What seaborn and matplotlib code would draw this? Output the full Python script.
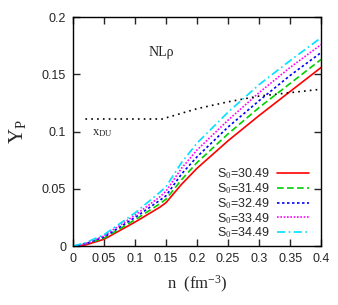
import numpy as np
import pandas as pd
import matplotlib
matplotlib.use("Agg")
import matplotlib.pyplot as plt
import seaborn as sns
from matplotlib.ticker import FuncFormatter

# ---- data ----
n_vals = [0.0, 0.02, 0.05, 0.10, 0.14, 0.15, 0.175, 0.20, 0.25, 0.30, 0.35, 0.40]
yp_3049 = [0.0, 0.001, 0.006, 0.021, 0.034, 0.038, 0.054, 0.068, 0.092, 0.114, 0.135, 0.156]
yp_3149 = [0.0, 0.002, 0.007, 0.023, 0.037, 0.041, 0.058, 0.073, 0.098, 0.121, 0.142, 0.163]
yp_3249 = [0.0, 0.002, 0.008, 0.025, 0.040, 0.044, 0.063, 0.078, 0.104, 0.127, 0.149, 0.169]
yp_3349 = [0.0, 0.002, 0.009, 0.027, 0.043, 0.048, 0.068, 0.084, 0.110, 0.134, 0.156, 0.176]
yp_3449 = [0.0, 0.003, 0.010, 0.029, 0.047, 0.052, 0.073, 0.090, 0.117, 0.141, 0.162, 0.182]

n_du = [0.02, 0.05, 0.10, 0.145, 0.15, 0.175, 0.20, 0.25, 0.30, 0.35, 0.40]
x_du = [0.111, 0.111, 0.111, 0.111, 0.112, 0.116, 0.120, 0.126, 0.131, 0.134, 0.137]

labels = ["S$_0$=30.49", "S$_0$=31.49", "S$_0$=32.49", "S$_0$=33.49", "S$_0$=34.49"]
series = [yp_3049, yp_3149, yp_3249, yp_3349, yp_3449]
colors = ["#ff0000", "#00d000", "#0000ff", "#ff00ff", "#00e0ff"]
dash_styles = ["-", (0, (4, 2)), (0, (1.5, 1.5)), (0, (1, 1)), (0, (5, 2, 1, 2))]

x_ticks = [0, 0.05, 0.1, 0.15, 0.2, 0.25, 0.3, 0.35, 0.4]
y_ticks = [0, 0.05, 0.1, 0.15, 0.2]

# ---- plotting ----
sns.set_style("ticks")
plt.rcParams["font.family"] = ["Liberation Sans", "DejaVu Sans"]
plt.rcParams["mathtext.fontset"] = "custom"
plt.rcParams["mathtext.rm"] = "Liberation Serif"
plt.rcParams["mathtext.it"] = "Liberation Serif:italic"

fig = plt.figure(figsize=(3.38, 3.05), dpi=100)
ax = fig.add_axes([0.216, 0.193, 0.734, 0.751])

for ys, lab, col, ls in zip(series, labels, colors, dash_styles):
    df = pd.DataFrame({"n": n_vals, "Y": ys})
    sns.lineplot(data=df, x="n", y="Y", ax=ax, color=col, lw=1.2,
                 linestyle=ls, label=lab)

df_du = pd.DataFrame({"n": n_du, "Y": x_du})
sns.lineplot(data=df_du, x="n", y="Y", ax=ax, color="black", lw=1.2,
             linestyle=(0, (1, 2.5)), legend=False)

ax.set_xlim(0, 0.4)
ax.set_ylim(0, 0.2)
ax.set_xticks(x_ticks)
ax.set_yticks(y_ticks)
ax.xaxis.set_major_formatter(FuncFormatter(lambda v, p: "%g" % round(v, 3)))
ax.yaxis.set_major_formatter(FuncFormatter(lambda v, p: "%g" % round(v, 3)))
ax.tick_params(direction="in", top=True, right=True, length=5, width=1,
               labelsize=9, pad=5)
for s in ax.spines.values():
    s.set_linewidth(1.0)
    s.set_color("black")

ax.set_xlabel("n  (fm$^{-3}$)", fontsize=12, family="Liberation Serif", labelpad=6)
ax.set_ylabel("Y$_{\\rm P}$", fontsize=15, family="Liberation Serif", labelpad=10)

ax.text(0.121, 0.169, "NL\u03c1", fontsize=10, family="Liberation Serif",
        ha="left", va="center")
ax.text(0.03, 0.099, "x$_{\\rm DU}$", fontsize=9, family="Liberation Serif",
        ha="left", va="center")

leg = ax.legend(loc="lower right", frameon=False, markerfirst=False,
                fontsize=9, handlelength=2.5, handletextpad=0.6,
                labelspacing=0.0, borderaxespad=0.0, borderpad=0.0,
                bbox_to_anchor=(0.95, 0.025))

fig.savefig("out.png", dpi=100)
